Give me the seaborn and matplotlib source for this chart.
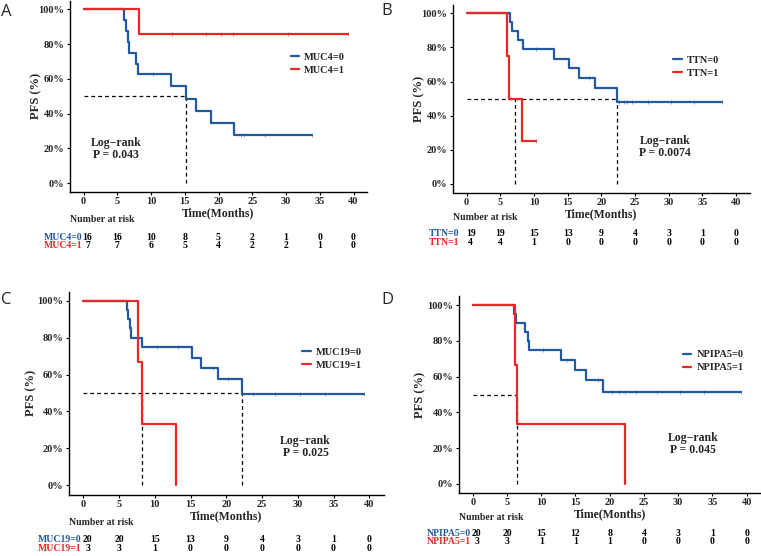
import numpy as np
import pandas as pd
import matplotlib
matplotlib.use("Agg")
import matplotlib.pyplot as plt
import seaborn as sns
from matplotlib import transforms
from matplotlib.ticker import FuncFormatter

# ---- data (months, PFS %) ----
risk_times = [0, 5, 10, 15, 20, 25, 30, 35, 40]

# A: MUC4
a0_times = [0, 6.0, 6.25, 6.55, 6.75, 7.75, 8.05, 12.9, 15.15, 16.6, 18.95, 22.3, 33.8]
a0_surv = [100, 93.75, 87.5, 81.25, 75, 68.75, 62.5, 55.6, 48.6, 41.7, 34.7, 27.8, 27.8]
a0_cens = [10.3, 23.3, 23.8, 26.9, 33.8]
a1_times = [0, 8.25, 39.2]
a1_surv = [100, 85.7, 85.7]
a1_cens = [13.1, 18.1, 20.4, 22.2, 30.3, 39.2]
a0_risk = [16, 16, 10, 8, 5, 2, 1, 0, 0]
a1_risk = [7, 7, 6, 5, 4, 2, 2, 1, 0]

# B: TTN
b0_times = [0, 6.4, 6.7, 7.6, 8.3, 13.0, 15.2, 16.7, 19.05, 22.3, 37.9]
b0_surv = [100, 94.7, 89.5, 84.2, 78.9, 73.3, 67.7, 62.0, 56.0, 48.2, 48.2]
b0_cens = [10.3, 18.1, 22.6, 23.3, 23.8, 24.5, 26.9, 30.3, 33.8, 37.9]
b1_times = [0, 6.0, 6.3, 8.2, 10.3]
b1_surv = [100, 75, 50, 25, 25]
b1_cens = [10.3]
b0_risk = [19, 19, 15, 13, 9, 4, 3, 1, 0]
b1_risk = [4, 4, 1, 0, 0, 0, 0, 0, 0]

# C: MUC19
c0_times = [0, 6.06, 6.3, 6.5, 6.7, 8.25, 15.15, 16.5, 18.9, 22.2, 39.2]
c0_surv = [100, 95, 90, 85, 80, 75, 69.2, 63.5, 57.7, 49.5, 49.5]
c0_cens = [10.3, 13.2, 18.1, 20.3, 23.8, 26.8, 30.3, 33.8, 39.2]
c1_times = [0, 7.7, 8.15, 12.9]
c1_surv = [100, 66.7, 33.3, 0]
c1_cens = []
c0_risk = [20, 20, 15, 13, 9, 4, 3, 1, 0]
c1_risk = [3, 3, 1, 0, 0, 0, 0, 0, 0]

# D: NPIPA5
d0_times = [0, 6.03, 6.3, 7.7, 8.0, 8.2, 12.9, 15.0, 16.5, 19.0, 39.1]
d0_surv = [100, 95, 90, 85, 80, 75, 69.6, 63.8, 58.0, 51.5, 51.5]
d0_cens = [10.3, 13.8, 18.3, 20.3, 21.4, 22.2, 23.8, 26.9, 30.3, 33.8, 39.1]
d1_times = [0, 6.2, 6.5, 22.2]
d1_surv = [100, 66.7, 33.3, 0]
d1_cens = []
d0_risk = [20, 20, 15, 12, 8, 4, 3, 1, 0]
d1_risk = [3, 3, 1, 1, 1, 0, 0, 0, 0]

BLUE = "#22599f"
RED = "#ee2526"
SERIF = ["Liberation Serif", "DejaVu Serif"]

W, H = 761, 556
fig = plt.figure(figsize=(W / 100, H / 100), dpi=100)
sns.set_style("white")
plt.rcParams["font.family"] = SERIF
plt.rcParams["font.weight"] = "bold"


def px_axes(l, t, r, b):
    return fig.add_axes([l / W, 1 - b / H, (r - l) / W, (b - t) / H])


panels = [
    dict(letter="A", box=(70, 0.6, 367, 191.7), gene="MUC4",
         g0=(a0_times, a0_surv, a0_cens, a0_risk), g1=(a1_times, a1_surv, a1_cens, a1_risk),
         med=[15.15], hline_end=15.15, lr=(4.8, 19.6), p="0.043",
         risk_y=(220, 237.3, 246), lab_x=82, letter_xy=(1, 12), ylab_x=36.5),
    dict(letter="B", box=(453.2, 4.8, 749.5, 192.5), gene="TTN",
         g0=(b0_times, b0_surv, b0_cens, b0_risk), g1=(b1_times, b1_surv, b1_cens, b1_risk),
         med=[7.25, 22.3], hline_end=22.3, lr=(29.5, 21.5), p="0.0074",
         risk_y=(217.7, 233.3, 242.3), lab_x=459, letter_xy=(381, 11), ylab_x=419.5),
    dict(letter="C", box=(69, 291.5, 383.6, 494.5), gene="MUC19",
         g0=(c0_times, c0_surv, c0_cens, c0_risk), g1=(c1_times, c1_surv, c1_cens, c1_risk),
         med=[8.2, 22.2], hline_end=22.2, lr=(31.1, 21), p="0.025",
         risk_y=(522.7, 539.3, 548.7), lab_x=81, letter_xy=(1, 300), ylab_x=31),
    dict(letter="D", box=(459, 296.4, 760.4, 492.6), gene="NPIPA5",
         g0=(d0_times, d0_surv, d0_cens, d0_risk), g1=(d1_times, d1_surv, d1_cens, d1_risk),
         med=[6.5], hline_end=6.5, lr=(32.2, 22.3), p="0.045",
         risk_y=(517.7, 533.3, 542), lab_x=470.5, letter_xy=(381, 300), ylab_x=420.5),
]

for pn in panels:
    ax = px_axes(*pn["box"])
    gene = pn["gene"]
    labels = [f"{gene}=0", f"{gene}=1"]
    frames = []
    for lab, g in zip(labels, (pn["g0"], pn["g1"])):
        frames.append(pd.DataFrame({"time": g[0], "surv": g[1], "group": lab}))
    df = pd.concat(frames, ignore_index=True)

    # median reference lines
    ax.plot([0, pn["hline_end"]], [50, 50], color="black", lw=0.9, ls=(0, (3, 2.5)), zorder=1)
    for m in pn["med"]:
        ax.plot([m, m], [0, 50], color="black", lw=0.9, ls=(0, (3, 2.5)), zorder=1)

    sns.lineplot(data=df, x="time", y="surv", hue="group", palette=[BLUE, RED],
                 drawstyle="steps-post", estimator=None, sort=False, lw=1.6, ax=ax, zorder=3)

    # censor marks
    for col, g in zip((BLUE, RED), (pn["g0"], pn["g1"])):
        t = np.array(g[0])
        s = np.array(g[1])
        c = np.array(g[2])
        if len(c):
            idx = np.searchsorted(t, c, side="right") - 1
            ax.plot(c, s[idx], ls="none", marker="|", ms=3.5, mew=0.6, color=col, alpha=0.6, zorder=4)

    ax.set_xlim(-2, 42)
    ax.set_ylim(-5, 105)
    ax.set_xticks(risk_times)
    ax.set_yticks([0, 20, 40, 60, 80, 100])
    ax.yaxis.set_major_formatter(FuncFormatter(lambda v, _: f"{int(v)}%"))
    ax.tick_params(axis="both", direction="out", length=2.5, width=0.8, color="black",
                   labelsize=7.5, pad=1.5, left=True, bottom=True)
    for tl in ax.get_xticklabels() + ax.get_yticklabels():
        tl.set_fontweight("bold")
    sns.despine(ax=ax)
    for sp in ("left", "bottom"):
        ax.spines[sp].set_color("black")
        ax.spines[sp].set_linewidth(1.0)
    ax.set_xlabel("Time(Months)", fontsize=8.5, fontweight="bold", labelpad=1)
    ax.set_ylabel("")
    ax.grid(False)

    leg = ax.legend(title=None, loc="center left", bbox_to_anchor=(0.725, 0.67), frameon=False,
                    handlelength=0.8, handletextpad=0.5, borderpad=0, labelspacing=0.35,
                    prop={"family": SERIF, "weight": "bold", "size": 7.5})

    x_lr, y_lr = pn["lr"]
    ax.text(x_lr, y_lr, "Log\u2212rank\nP = " + pn["p"], ha="center", va="center",
            fontsize=8.5, fontweight="bold", family=SERIF + ["DejaVu Sans"], linespacing=1.0)

    # y label in figure pixels
    l, t, r, b = pn["box"]
    fig.text(pn["ylab_x"] / W, 1 - (t + b) / 2 / H, "PFS (%)", rotation=90, ha="center", va="center",
             fontsize=9, fontweight="bold")

    # panel letter
    lx, ly = pn["letter_xy"]
    fig.text(lx / W, 1 - ly / H, pn["letter"], ha="left", va="center", fontsize=12,
             family=["Open Sans", "DejaVu Sans"], fontweight="normal")

    # risk table
    trans = transforms.blended_transform_factory(ax.transData, fig.transFigure)
    ry0, ry1, ry2 = pn["risk_y"]
    fig.text(l / W, 1 - ry0 / H, "Number at risk", ha="left", va="center", fontsize=7, fontweight="bold")
    for yy, col, lab, g in ((ry1, BLUE, labels[0], pn["g0"]), (ry2, RED, labels[1], pn["g1"])):
        fig.text(pn["lab_x"] / W, 1 - yy / H, lab, ha="right", va="center", fontsize=7,
                 fontweight="bold", color=col)
        for i, (tt, n) in enumerate(zip(risk_times, g[3])):
            xx = tt + (0.6 if i == 0 else 0)
            ax.text(xx, 1 - yy / H, str(n), transform=trans, ha="center", va="center",
                    fontsize=7, fontweight="bold", color="black")

fig.savefig("out.png", dpi=100)
